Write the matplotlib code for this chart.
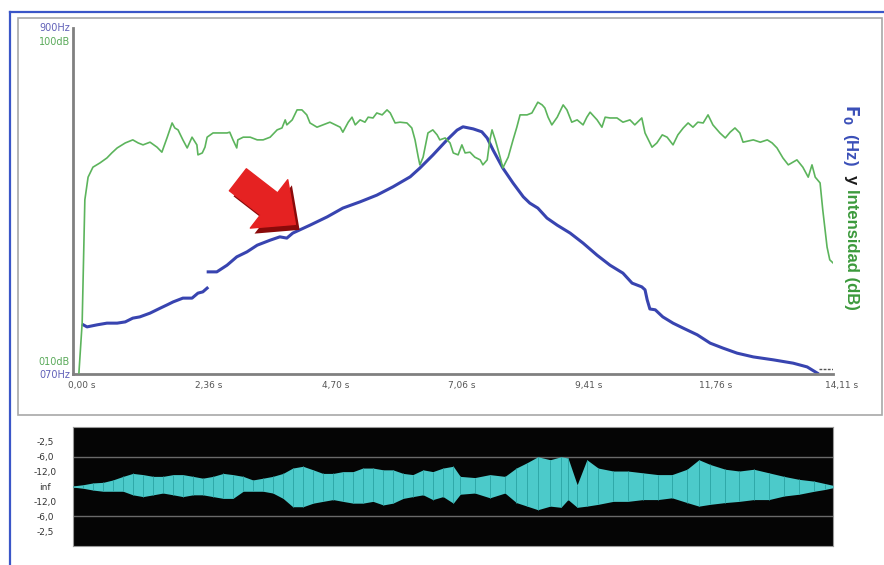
import matplotlib
matplotlib.use("Agg")
import matplotlib.pyplot as plt
import matplotlib.transforms as mtransforms
import matplotlib.patheffects as pe
from matplotlib.patches import FancyArrowPatch, Rectangle
from matplotlib.lines import Line2D
import numpy as np

# intensity curve (s, dB)
int_t = [0.11, 0.17, 0.22, 0.28, 0.37, 0.50, 0.63, 0.72, 0.82, 0.97,
         1.11, 1.21, 1.30, 1.43, 1.56, 1.65, 1.75, 1.84, 1.89, 1.95,
         2.04, 2.12, 2.21, 2.30, 2.32, 2.40, 2.45, 2.49, 2.60, 2.86,
         2.91, 2.97, 3.04, 3.06, 3.16, 3.29, 3.42, 3.53, 3.66, 3.79,
         3.88, 3.94, 3.97, 4.07, 4.16, 4.25, 4.34, 4.40, 4.53, 4.64,
         4.77, 4.96, 5.01, 5.11, 5.18, 5.24, 5.33, 5.42, 5.48, 5.57,
         5.64, 5.74, 5.83, 5.89, 5.98, 6.07, 6.20, 6.29, 6.35, 6.41,
         6.44, 6.50, 6.59, 6.68, 6.76, 6.81, 6.91, 7.00, 7.06, 7.15,
         7.22, 7.28, 7.37, 7.46, 7.56, 7.61, 7.69, 7.74, 7.78, 7.84,
         7.93, 7.98, 8.08, 8.17, 8.24, 8.30, 8.43, 8.52, 8.58, 8.63,
         8.71, 8.76, 8.82, 8.89, 8.99, 9.10, 9.17, 9.26, 9.36, 9.47,
         9.54, 9.60, 9.73, 9.82, 9.88, 9.97, 10.10, 10.21, 10.34, 10.43,
         10.56, 10.62, 10.75, 10.84, 10.94, 11.03, 11.14, 11.23, 11.33, 11.42,
         11.51, 11.60, 11.70, 11.79, 11.88, 12.01, 12.11, 12.20, 12.29, 12.38,
         12.44, 12.63, 12.76, 12.89, 12.98, 13.07, 13.18, 13.28, 13.44, 13.55,
         13.65, 13.72, 13.78, 13.87, 13.92, 14.00, 14.05, 14.11]
int_db = [10.3, 23.3, 55.3, 61.2, 63.8, 64.9, 66.2, 67.5, 68.8, 70.1,
          70.9, 70.1, 69.6, 70.3, 69.0, 67.7, 71.6, 75.3, 74.0, 73.5,
          70.9, 68.8, 71.6, 69.6, 67.0, 67.5, 69.0, 71.6, 72.7, 72.7,
          72.9, 70.9, 68.8, 70.9, 71.6, 71.6, 70.9, 70.9, 71.6, 73.5,
          74.0, 76.1, 74.8, 76.1, 78.7, 78.7, 77.4, 75.3, 74.2, 74.8,
          75.5, 74.2, 72.9, 75.5, 76.8, 74.8, 76.1, 75.5, 76.8, 76.6,
          77.9, 77.4, 78.7, 77.9, 75.3, 75.5, 75.3, 74.0, 70.9, 66.4,
          64.4, 66.4, 72.7, 73.5, 72.2, 70.9, 71.4, 70.1, 67.5, 67.0,
          69.6, 67.5, 67.7, 66.4, 65.7, 64.4, 65.7, 70.9, 73.5, 70.9,
          66.4, 63.6, 66.4, 70.9, 74.2, 77.4, 77.4, 77.9, 79.4, 80.7,
          80.0, 79.2, 76.8, 74.8, 76.8, 80.0, 78.7, 75.5, 76.1, 74.8,
          76.8, 78.1, 76.1, 74.2, 76.8, 76.6, 76.6, 75.5, 76.1, 74.8,
          76.6, 72.7, 69.0, 70.1, 72.2, 71.6, 69.6, 72.2, 74.0, 75.3,
          74.2, 75.5, 75.3, 77.4, 74.8, 72.7, 71.4, 72.9, 74.0, 72.7,
          70.3, 70.9, 70.3, 70.9, 70.1, 68.8, 66.2, 64.4, 65.7, 63.8,
          61.2, 64.4, 61.2, 59.7, 52.7, 43.0, 39.7, 38.9]

# F0 curve (s, Hz); nan = voicing break
f0_t = [0.19, 0.26, 0.45, 0.63, 0.82, 0.97, 1.11, 1.24, 1.43, 1.62,
        1.75, 1.86, 2.04, 2.21, 2.32, 2.41, 2.49, 2.50,
        2.51, 2.67, 2.86, 3.04, 3.23, 3.42, 3.66, 3.84, 3.97, 4.08,
        4.40, 4.72, 5.01, 5.33, 5.64, 5.94, 6.26, 6.44, 6.68, 6.94,
        7.13, 7.24, 7.43, 7.59, 7.69, 7.80, 7.98, 8.17, 8.36, 8.48,
        8.63, 8.80, 8.99, 9.23, 9.47, 9.73, 9.97, 10.21, 10.38, 10.56,
        10.62, 10.66, 10.71, 10.81, 10.95, 11.14, 11.33, 11.59, 11.83, 12.07,
        12.33, 12.63, 13.00, 13.37, 13.63, 13.82]
f0_hz = [188, 183, 188, 192, 192, 195, 204, 207, 216, 228,
         236, 243, 252, 252, 264, 267, 276, np.nan,
         315, 315, 331, 351, 363, 379, 391, 399, 396, 408,
         427, 447, 468, 483, 499, 519, 543, 564, 595, 631,
         655, 663, 658, 651, 636, 607, 564, 528, 495, 480,
         468, 444, 427, 408, 384, 355, 331, 312, 288, 279,
         272, 248, 226, 224, 207, 192, 180, 164, 144, 132,
         120, 111, 104, 96, 87, 72]
end_t = [13.85, 14.11]
end_hz = [82, 82]

# waveform envelope (s, relative amplitude above / below zero)
wave_t = [0.00, 0.19, 0.37, 0.56, 0.74, 0.93, 1.11, 1.30, 1.49, 1.67,
          1.86, 2.04, 2.23, 2.41, 2.60, 2.79, 2.97, 3.16, 3.34, 3.53,
          3.71, 3.90, 4.08, 4.27, 4.46, 4.64, 4.83, 5.01, 5.20, 5.38,
          5.57, 5.76, 5.94, 6.13, 6.31, 6.50, 6.68, 6.87, 7.06, 7.19,
          7.46, 7.74, 8.02, 8.23, 8.43, 8.63, 8.86, 9.06, 9.19, 9.36,
          9.54, 9.75, 10.03, 10.30, 10.58, 10.86, 11.12, 11.40, 11.62, 11.83,
          12.11, 12.37, 12.64, 12.92, 13.20, 13.48, 13.76, 13.96, 14.11]
wave_top = [0.01, 0.03, 0.06, 0.07, 0.11, 0.17, 0.22, 0.20, 0.17, 0.17,
            0.20, 0.20, 0.17, 0.14, 0.17, 0.22, 0.20, 0.17, 0.11, 0.14,
            0.17, 0.22, 0.31, 0.34, 0.28, 0.22, 0.22, 0.25, 0.25, 0.31,
            0.31, 0.28, 0.28, 0.22, 0.20, 0.28, 0.25, 0.31, 0.34, 0.17,
            0.15, 0.20, 0.17, 0.31, 0.40, 0.50, 0.45, 0.50, 0.48, 0.03,
            0.45, 0.31, 0.26, 0.26, 0.23, 0.20, 0.20, 0.29, 0.45, 0.37,
            0.29, 0.26, 0.29, 0.23, 0.17, 0.12, 0.09, 0.05, 0.02]
wave_bot = [0.01, 0.03, 0.06, 0.08, 0.08, 0.08, 0.14, 0.17, 0.14, 0.11,
            0.14, 0.17, 0.14, 0.14, 0.17, 0.20, 0.20, 0.08, 0.08, 0.08,
            0.11, 0.20, 0.34, 0.34, 0.28, 0.25, 0.22, 0.25, 0.28, 0.28,
            0.25, 0.31, 0.28, 0.20, 0.17, 0.14, 0.22, 0.17, 0.28, 0.13,
            0.11, 0.19, 0.11, 0.27, 0.33, 0.39, 0.33, 0.35, 0.22, 0.35,
            0.33, 0.30, 0.25, 0.25, 0.22, 0.22, 0.19, 0.27, 0.33, 0.30,
            0.27, 0.25, 0.22, 0.22, 0.16, 0.13, 0.08, 0.05, 0.02]

time_ticks = [0.0, 2.352, 4.703, 7.055, 9.407, 11.758, 14.11]
time_labels = ["0,00 s", "2,36 s", "4,70 s", "7,06 s", "9,41 s", "11,76 s", "14,11 s"]
amp_ticks = [0.75, 0.5, 0.25, 0.0, -0.25, -0.5, -0.75]
amp_labels = ["-2,5", "-6,0", "-12,0", "inf", "-12,0", "-6,0", "-2,5"]

W, H = 884, 565
BLUE = "#3844b0"
GREEN = "#5cb45c"
CYAN = "#4ccaca"

fig = plt.figure(figsize=(W / 100, H / 100), dpi=100)
fig.patch.set_facecolor("white")


def fx(px):
    return px / W


def fy(py):
    return 1 - py / H


# window frames
fig.add_artist(Line2D([fx(10), fx(10)], [fy(12), 0], color="#3a56c8", lw=1.6))
fig.add_artist(Line2D([fx(10), 1], [fy(12), fy(12)], color="#3a56c8", lw=1.6))
fig.add_artist(Rectangle((fx(18), fy(415)), fx(864), (415 - 18) / H,
                         fill=False, edgecolor="#a8a8a8", lw=1.2))

# upper panel
ax = fig.add_axes([fx(73), fy(374), fx(760), (374 - 28) / H])
ax.set_xlim(0, 14.11)
ax.set_ylim(70, 900)
ax.plot(f0_t, f0_hz, color=BLUE, lw=2.2)
ax.plot(end_t, end_hz, color="#555555", lw=1.0, ls=(0, (2, 1)))
for s in ["top", "right"]:
    ax.spines[s].set_visible(False)
for s in ["left", "bottom"]:
    ax.spines[s].set_color("#808080")
    ax.spines[s].set_linewidth(2)
ax.set_yticks([])
ax.set_xticks(time_ticks)
ax.set_xticklabels(time_labels, fontsize=6.5, color="#555555")
ax.tick_params(axis="x", length=0, pad=5)
offset = mtransforms.ScaledTranslation(9 / 100, 0, fig.dpi_scale_trans)
for lab in ax.get_xticklabels():
    lab.set_transform(lab.get_transform() + offset)

ax2 = ax.twinx()
ax2.set_ylim(10, 100)
ax2.plot(int_t, int_db, color=GREEN, lw=1.2)
ax2.set_yticks([])
for s in ["top", "right", "left", "bottom"]:
    ax2.spines[s].set_visible(False)

# red arrow pointing at the F0 rise
arrow = FancyArrowPatch((3.02, 540), (4.17, 425),
                        arrowstyle="simple,head_length=24,head_width=44,tail_width=20",
                        mutation_scale=1, color="#e52222", zorder=5,
                        path_effects=[pe.SimplePatchShadow(offset=(3, -4), shadow_rgbFace="#8a0a0a", alpha=1),
                                      pe.Normal()])
ax2.add_patch(arrow)
arrow.set_transform(ax.transData)

# axis range labels
fig.text(fx(70), fy(28), "900Hz", color="#6060b8", fontsize=7, ha="right", va="center")
fig.text(fx(70), fy(42), "100dB", color="#5aaa5a", fontsize=7, ha="right", va="center")
fig.text(fx(70), fy(362), "010dB", color="#5aaa5a", fontsize=7, ha="right", va="center")
fig.text(fx(70), fy(375), "070Hz", color="#6060b8", fontsize=7, ha="right", va="center")

# vertical title
fig.text(fx(851), fy(104), r"$\mathbf{F_0}$  (Hz)", color="#3a4fb8", fontsize=12,
         fontweight="bold", family="Liberation Sans", rotation=270, ha="center", va="top")
fig.text(fx(851), fy(175), "y", color="#1a1a1a", fontsize=12,
         fontweight="bold", family="Liberation Sans", rotation=270, ha="center", va="top")
fig.text(fx(851), fy(189), "Intensidad (dB)", color="#3c9a3c", fontsize=12,
         fontweight="bold", family="Liberation Sans", rotation=270, ha="center", va="top")

# waveform panel
axw = fig.add_axes([fx(73), fy(546), fx(760), (546 - 427) / H])
axw.set_facecolor("#050505")
axw.set_xlim(0, 14.11)
axw.set_ylim(-1, 1)
axw.axhline(0.5, color="#6a6a6a", lw=1)
axw.axhline(-0.5, color="#6a6a6a", lw=1)
axw.axhline(0, color="#555555", lw=0.8)
axw.fill_between(wave_t, [-b for b in wave_bot], wave_top, color=CYAN, lw=0, zorder=3)
axw.vlines(wave_t, [-b for b in wave_bot], wave_top, color="#2aa3a3", lw=0.6, zorder=4)
axw.set_xticks([])
axw.set_yticks(amp_ticks)
axw.set_yticklabels(amp_labels, fontsize=6.5, color="#333333")
axw.tick_params(axis="y", length=0, pad=20)
for lab in axw.get_yticklabels():
    lab.set_horizontalalignment("center")
for s in axw.spines.values():
    s.set_color("#999999")
    s.set_linewidth(0.8)

fig.savefig("out.png", dpi=100)
